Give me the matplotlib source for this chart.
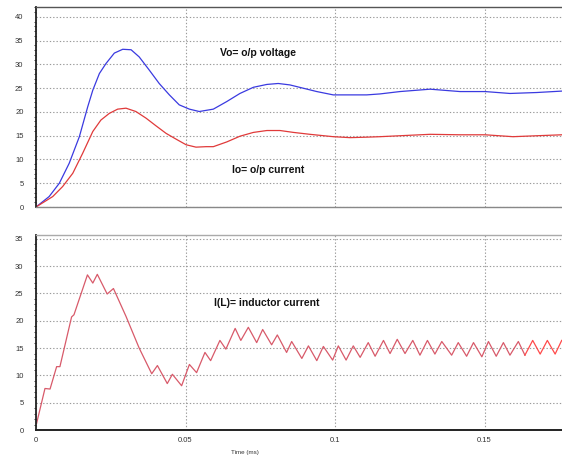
import matplotlib
matplotlib.use("Agg")
import matplotlib.pyplot as plt
from matplotlib.ticker import MultipleLocator

plt.rcParams['font.family'] = ['Liberation Sans', 'DejaVu Sans']

# ---- data (time in ms) ----
t_vo = [0, 0.0044, 0.0078, 0.0111, 0.0145, 0.0173, 0.0190, 0.0212, 0.0234,
        0.0262, 0.0290, 0.0318, 0.0345, 0.0379, 0.0412, 0.0446, 0.0479, 0.0513,
        0.0546, 0.0593, 0.0638, 0.0682, 0.0727, 0.0772, 0.0810, 0.0849, 0.0894,
        0.0939, 0.0994, 0.1050, 0.1106, 0.1150, 0.1217, 0.1318, 0.1418, 0.1502,
        0.1585, 0.1675, 0.1759]
vo = [0, 2.2, 5.0, 9.2, 14.8, 21.1, 24.6, 28.1, 30.2,
      32.4, 33.2, 33.1, 31.6, 28.8, 26.0, 23.6, 21.5, 20.6,
      20.1, 20.6, 22.2, 23.9, 25.2, 25.8, 26.0, 25.7, 25.0,
      24.3, 23.6, 23.6, 23.6, 23.8, 24.3, 24.8, 24.3, 24.3,
      23.9, 24.1, 24.4]

t_io = [0, 0.0056, 0.0089, 0.0123, 0.0156, 0.0190, 0.0217, 0.0245, 0.0273,
        0.0301, 0.0334, 0.0368, 0.0401, 0.0435, 0.0468, 0.0502, 0.0535, 0.0569,
        0.0593, 0.0638, 0.0682, 0.0727, 0.0772, 0.0816, 0.0861, 0.0916, 0.0994,
        0.1050, 0.1106, 0.1150, 0.1217, 0.1318, 0.1418, 0.1502, 0.1595, 0.1675,
        0.1759]
io = [0, 2.2, 4.3, 7.1, 11.3, 15.9, 18.3, 19.7, 20.6,
      20.8, 20.1, 18.7, 17.1, 15.5, 14.3, 13.1, 12.6, 12.7,
      12.7, 13.7, 14.9, 15.7, 16.1, 16.1, 15.7, 15.3, 14.8,
      14.6, 14.7, 14.8, 15.0, 15.3, 15.2, 15.2, 14.8, 15.0,
      15.2]

t_il = [0.0002, 0.0030, 0.0047, 0.0069, 0.0080, 0.0119, 0.0127, 0.0172, 0.0190,
        0.0205, 0.0238, 0.0259, 0.0301, 0.0345, 0.0387, 0.0406, 0.0439, 0.0456,
        0.0487, 0.0513, 0.0537, 0.0565, 0.0584, 0.0615, 0.0635, 0.0666, 0.0685,
        0.0710, 0.0738, 0.0758, 0.0788, 0.0807, 0.0838, 0.0855, 0.0889, 0.0911,
        0.0939, 0.0961, 0.0992, 0.1011, 0.1037, 0.1061, 0.1084, 0.1111, 0.1134,
        0.1162, 0.1184, 0.1208, 0.1234, 0.1260, 0.1284, 0.1309, 0.1334, 0.1357,
        0.1390, 0.1412, 0.1440, 0.1463, 0.1491, 0.1513, 0.1539, 0.1563, 0.1585,
        0.1613, 0.1635, 0.1661, 0.1686, 0.1710, 0.1736, 0.1758]
il = [1.2, 7.6, 7.5, 11.6, 11.6, 20.7, 21.1, 28.4, 26.9,
      28.5, 24.9, 25.9, 20.8, 15.0, 10.3, 11.8, 8.5, 10.2,
      8.1, 12.0, 10.5, 14.2, 12.7, 16.4, 14.8, 18.6, 16.4,
      18.8, 16.0, 18.4, 15.6, 17.4, 14.2, 16.2, 13.1, 15.4,
      12.7, 15.3, 12.8, 15.4, 12.8, 15.4, 13.3, 16.0, 13.5,
      16.4, 14.0, 16.6, 14.0, 16.4, 13.7, 16.4, 13.9, 16.2,
      13.7, 16.0, 13.5, 16.0, 13.4, 16.2, 13.5, 16.0, 13.7,
      16.2, 13.7, 16.4, 13.9, 16.4, 13.9, 16.4]
il_split = 64  # index where trace colour changes

x_ticks = [0, 0.05, 0.1, 0.15]
x_ticklabels = ["0", "0.05", "0.1", "0.15"]

# ---- figure ----
W, H = 562, 461
fig = plt.figure(figsize=(W / 100, H / 100), dpi=100)
left = 36 / W
ax1 = fig.add_axes([left, 1 - 207 / H, 1 - left, 200 / H])
ax2 = fig.add_axes([left, 1 - 430 / H, 1 - left, 195 / H])

grid_kw = dict(color='#9a9a9a', linestyle=(0, (1.2, 1.8)), linewidth=0.8)

for ax in (ax1, ax2):
    ax.set_xlim(0, 0.1759)
    ax.set_xticks(x_ticks)
    ax.yaxis.set_major_locator(MultipleLocator(5))
    ax.grid(True, **grid_kw)
    ax.set_axisbelow(True)
    ax.spines['right'].set_visible(False)
    ax.spines['left'].set_color('#222222')
    ax.spines['left'].set_linewidth(1.3)
    ax.tick_params(axis='both', length=0, labelsize=5.5, labelcolor='#333333')
    ax.tick_params(axis='y', pad=9)
    ax.yaxis.set_minor_locator(MultipleLocator(1))
    ax.tick_params(axis='y', which='minor', length=1.5, width=0.6, color='#222222')

# top panel
ax1.set_ylim(0, 42.1)
ax1.plot(t_vo, vo, color='#3a3ae0', linewidth=0.9)
ax1.plot(t_io, io, color='#e03a3a', linewidth=0.9)
ax1.set_xticklabels([])
ax1.spines['top'].set_color('#555555')
ax1.spines['top'].set_linewidth(1.0)
ax1.spines['bottom'].set_color('#888888')
ax1.spines['bottom'].set_linewidth(1.0)
ax1.text(0.0742, 32.5, "Vo= o/p voltage", fontsize=7.5, fontweight='bold',
         ha='center', va='center', color='#111111')
ax1.text(0.0776, 7.8, "Io= o/p current", fontsize=7.5, fontweight='bold',
         ha='center', va='center', color='#111111')

# bottom panel
ax2.set_ylim(0, 35.7)
ax2.plot(t_il[:il_split + 1], il[:il_split + 1], color='#d85a6a', linewidth=0.9)
ax2.plot(t_il[il_split:], il[il_split:], color='#ff4a4a', linewidth=0.9)
ax2.set_xticklabels(x_ticklabels)
ax2.tick_params(axis='x', pad=5)
ax2.spines['top'].set_color('#aaaaaa')
ax2.spines['top'].set_linewidth(1.0)
ax2.spines['bottom'].set_color('#222222')
ax2.spines['bottom'].set_linewidth(1.4)
ax2.text(0.0773, 23.3, "I(L)= inductor current", fontsize=7.5, fontweight='bold',
         ha='center', va='center', color='#111111')

fig.text(245 / W, 1 - 452 / H, "Time (ms)", fontsize=4.5, color='#333333',
         ha='center', va='center')

fig.savefig("out.png", dpi=100)
